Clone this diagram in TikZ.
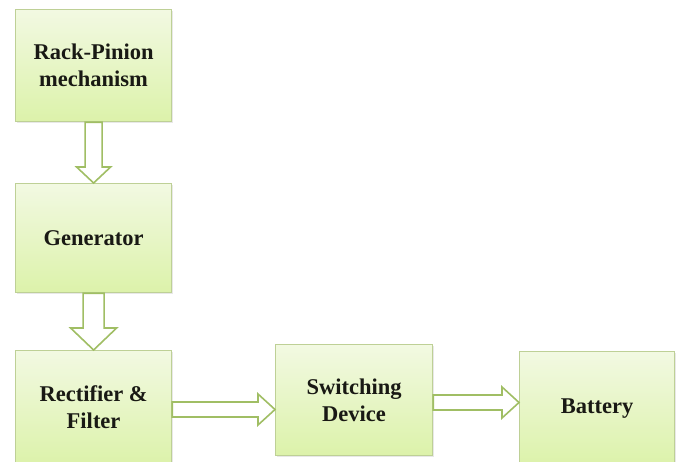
\documentclass[tikz,border=0pt]{standalone}
\usepackage{fontspec}
\setmainfont{Liberation Serif}
\usetikzlibrary{calc,shadows}
\definecolor{boxline}{RGB}{190,208,150}
\definecolor{arrline}{RGB}{160,190,100}
\definecolor{filltop}{RGB}{242,249,226}
\definecolor{fillbot}{RGB}{220,242,170}
\definecolor{txt}{RGB}{25,25,20}
\tikzset{
  blockbox/.style={draw=boxline, line width=1.2pt, top color=filltop, bottom color=fillbot,
    drop shadow={shadow xshift=1pt, shadow yshift=-1.5pt, opacity=0.18},
    align=center, font=\fontsize{22.5}{27}\selectfont\bfseries, text=txt, inner sep=0pt},
  blockarrow/.style={draw=arrline, line width=1.6pt, fill=white, line join=miter}
}
\begin{document}
\begin{tikzpicture}[x=1pt,y=-1pt]
\useasboundingbox (0,0) rectangle (678,461);
\clip (0,0) rectangle (678,461);
\fill[white] (0,0) rectangle (678,461);
% boxes
\node[blockbox, minimum width=156pt, minimum height=112pt, anchor=north west] (rp) at (15,9) {Rack-Pinion\\mechanism};
\node[blockbox, minimum width=156pt, minimum height=109pt, anchor=north west] (gen) at (15,183) {Generator};
\node[blockbox, minimum width=156pt, minimum height=114pt, anchor=north west] (rf) at (15,350) {Rectifier \&\\Filter};
\node[blockbox, minimum width=157pt, minimum height=111pt, anchor=north west] (sw) at (275,344) {Switching\\Device};
\node[blockbox, minimum width=155pt, minimum height=114pt, anchor=north west] (bat) at (519,351) {Battery};
% arrow axis coordinates
\coordinate (h1) at (0,409.5);
\coordinate (h2) at (0,402.5);
% vertical arrow rp -> gen
\draw[blockarrow] ($(rp.south)+(-8.5,0)$) -- ($(gen.north)+(-8.5,-16)$) -- ($(gen.north)+(-17,-16)$)
  -- (gen.north) -- ($(gen.north)+(17,-16)$) -- ($(gen.north)+(8.5,-16)$) -- ($(rp.south)+(8.5,0)$) -- cycle;
% vertical arrow gen -> rf
\draw[blockarrow] ($(gen.south)+(-10.5,0)$) -- ($(rf.north)+(-10.5,-22)$) -- ($(rf.north)+(-23,-22)$)
  -- (rf.north) -- ($(rf.north)+(23,-22)$) -- ($(rf.north)+(10.5,-22)$) -- ($(gen.south)+(10.5,0)$) -- cycle;
% horizontal arrow rf -> sw
\draw[blockarrow] ($(rf.east |- h1)+(0,-7.5)$) -- ($(sw.west |- h1)+(-17,-7.5)$) -- ($(sw.west |- h1)+(-17,-15.5)$)
  -- (sw.west |- h1) -- ($(sw.west |- h1)+(-17,15.5)$) -- ($(sw.west |- h1)+(-17,7.5)$) -- ($(rf.east |- h1)+(0,7.5)$) -- cycle;
% horizontal arrow sw -> bat
\draw[blockarrow] ($(sw.east |- h2)+(0,-7.5)$) -- ($(bat.west |- h2)+(-17,-7.5)$) -- ($(bat.west |- h2)+(-17,-15.5)$)
  -- (bat.west |- h2) -- ($(bat.west |- h2)+(-17,15.5)$) -- ($(bat.west |- h2)+(-17,7.5)$) -- ($(sw.east |- h2)+(0,7.5)$) -- cycle;
\end{tikzpicture}
\end{document}
